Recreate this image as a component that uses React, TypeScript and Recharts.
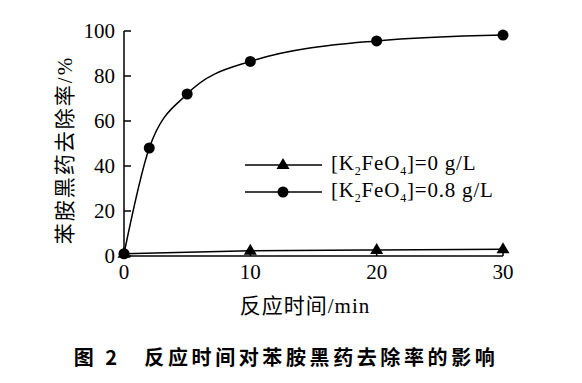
import React from "react";
import { LineChart, Line, XAxis, YAxis } from "recharts";

const timesWith = [0, 2, 5, 10, 20, 30];
const removalWith = [1, 48, 72, 86.5, 95.6, 98.2];
const timesWithout = [0, 10, 20, 30];
const removalWithout = [1, 2.3, 2.7, 3];
const xTicks = [0, 10, 20, 30];
const yTicks = [0, 20, 40, 60, 80, 100];
const seriesNames = ["[K2FeO4]=0 g/L", "[K2FeO4]=0.8 g/L"];
const xLabel = "反应时间/min";
const yLabel = "苯胺黑药去除率/%";
const caption = "图 2　反应时间对苯胺黑药去除率的影响";

const dataWith = timesWith.map((t, i) => ({ t, v: removalWith[i] }));
const dataWithout = timesWithout.map((t, i) => ({ t, v: removalWithout[i] }));

const SERIF = "Liberation Serif, Times New Roman, Noto Sans CJK SC, serif";
const TICK_M = 10;

const XTick = (props: any) => {
  const { x, y, payload } = props;
  const axisY = y - TICK_M;
  return (
    <g>
      <line x1={x} y1={axisY} x2={x} y2={axisY - 6} stroke="#000" strokeWidth={1.5} />
      <text x={x} y={axisY + 23} textAnchor="middle" style={{ fontFamily: SERIF, fontSize: 21 }} fill="#000">
        {payload.value}
      </text>
    </g>
  );
};

const YTick = (props: any) => {
  const { x, y, payload } = props;
  const axisX = x + TICK_M;
  return (
    <g>
      <line x1={axisX} y1={y} x2={axisX + 7} y2={y} stroke="#000" strokeWidth={1.5} />
      <text x={axisX - 9} y={y + 7} textAnchor="end" style={{ fontFamily: SERIF, fontSize: 21 }} fill="#000">
        {payload.value}
      </text>
    </g>
  );
};

const Triangle = (props: any) => {
  const { cx, cy, index } = props;
  if (cx == null || cy == null) return <g key={index} />;
  return (
    <polygon
      key={index}
      points={`${cx},${cy - 7} ${cx - 6.5},${cy + 4} ${cx + 6.5},${cy + 4}`}
      fill="#000"
    />
  );
};

const Circle = (props: any) => {
  const { cx, cy, index } = props;
  if (cx == null || cy == null) return <g key={index} />;
  return <circle key={index} cx={cx} cy={cy} r={5.5} fill="#000" />;
};

const renderName = (name: string) => {
  const m = name.match(/^\[K2FeO4\](.*)$/);
  if (!m) return name;
  return (
    <span>
      [K<sub style={{ fontSize: 12, verticalAlign: -5 }}>2</sub>FeO
      <sub style={{ fontSize: 12, verticalAlign: -5 }}>4</sub>]{m[1]}
    </span>
  );
};

export default function App() {
  return (
    <div style={{ position: "absolute", left: 0, top: 0, width: 582, height: 383, background: "#fff" }}>
      <LineChart
        width={582}
        height={383}
        margin={{ top: 31, right: 79, left: 64, bottom: 97 }}
      >
        <XAxis
          type="number"
          dataKey="t"
          domain={[0, 30]}
          ticks={xTicks}
          height={30}
          tickSize={0}
          tickMargin={TICK_M}
          tick={<XTick />}
          axisLine={{ stroke: "#000", strokeWidth: 1.5 }}
          allowDuplicatedCategory={false}
        />
        <YAxis
          type="number"
          dataKey="v"
          domain={[0, 100]}
          ticks={yTicks}
          width={60}
          tickSize={0}
          tickMargin={TICK_M}
          tick={<YTick />}
          axisLine={{ stroke: "#000", strokeWidth: 1.5 }}
        />
        <Line
          data={dataWithout}
          dataKey="v"
          name={seriesNames[0]}
          type="monotone"
          stroke="#000"
          strokeWidth={1.5}
          dot={<Triangle />}
          isAnimationActive={false}
        />
        <Line
          data={dataWith}
          dataKey="v"
          name={seriesNames[1]}
          type="monotone"
          stroke="#000"
          strokeWidth={1.5}
          dot={<Circle />}
          isAnimationActive={false}
        />
      </LineChart>
      <div
        style={{
          position: "absolute",
          left: 245,
          top: 151,
          fontFamily: SERIF,
          fontSize: 21,
          letterSpacing: 0.8,
          color: "#000",
        }}
      >
        {seriesNames.map((n, i) => (
          <div key={n} style={{ display: "flex", alignItems: "center", height: 27, whiteSpace: "pre" }}>
            <svg width={86} height={20} style={{ display: "block" }}>
              <line x1={0} y1={10} x2={77} y2={10} stroke="#000" strokeWidth={1.5} />
              {i === 0 ? (
                <polygon points="38,3 31.5,14 44.5,14" fill="#000" />
              ) : (
                <circle cx={38} cy={10} r={5.5} fill="#000" />
              )}
            </svg>
            {renderName(n)}
          </div>
        ))}
      </div>
      <div
        style={{
          position: "absolute",
          left: 195,
          top: 293,
          width: 220,
          textAlign: "center",
          fontFamily: SERIF,
          fontSize: 21,
          letterSpacing: 1,
          lineHeight: "26px",
          color: "#000",
        }}
      >
        {xLabel}
      </div>
      <div
        style={{
          position: "absolute",
          left: 65,
          top: 150,
          width: 240,
          marginLeft: -120,
          marginTop: -13,
          textAlign: "center",
          transform: "rotate(-90deg)",
          fontFamily: SERIF,
          fontSize: 21,
          letterSpacing: 2,
          lineHeight: "26px",
          color: "#000",
          whiteSpace: "nowrap",
        }}
      >
        {yLabel}
      </div>
      <div
        style={{
          position: "absolute",
          left: 0,
          top: 343,
          width: 572,
          textAlign: "center",
          fontFamily: "Noto Sans CJK SC, sans-serif",
          fontWeight: 700,
          fontSize: 20,
          letterSpacing: 3.6,
          lineHeight: "28px",
          color: "#000",
          whiteSpace: "pre",
        }}
      >
        {caption}
      </div>
    </div>
  );
}
